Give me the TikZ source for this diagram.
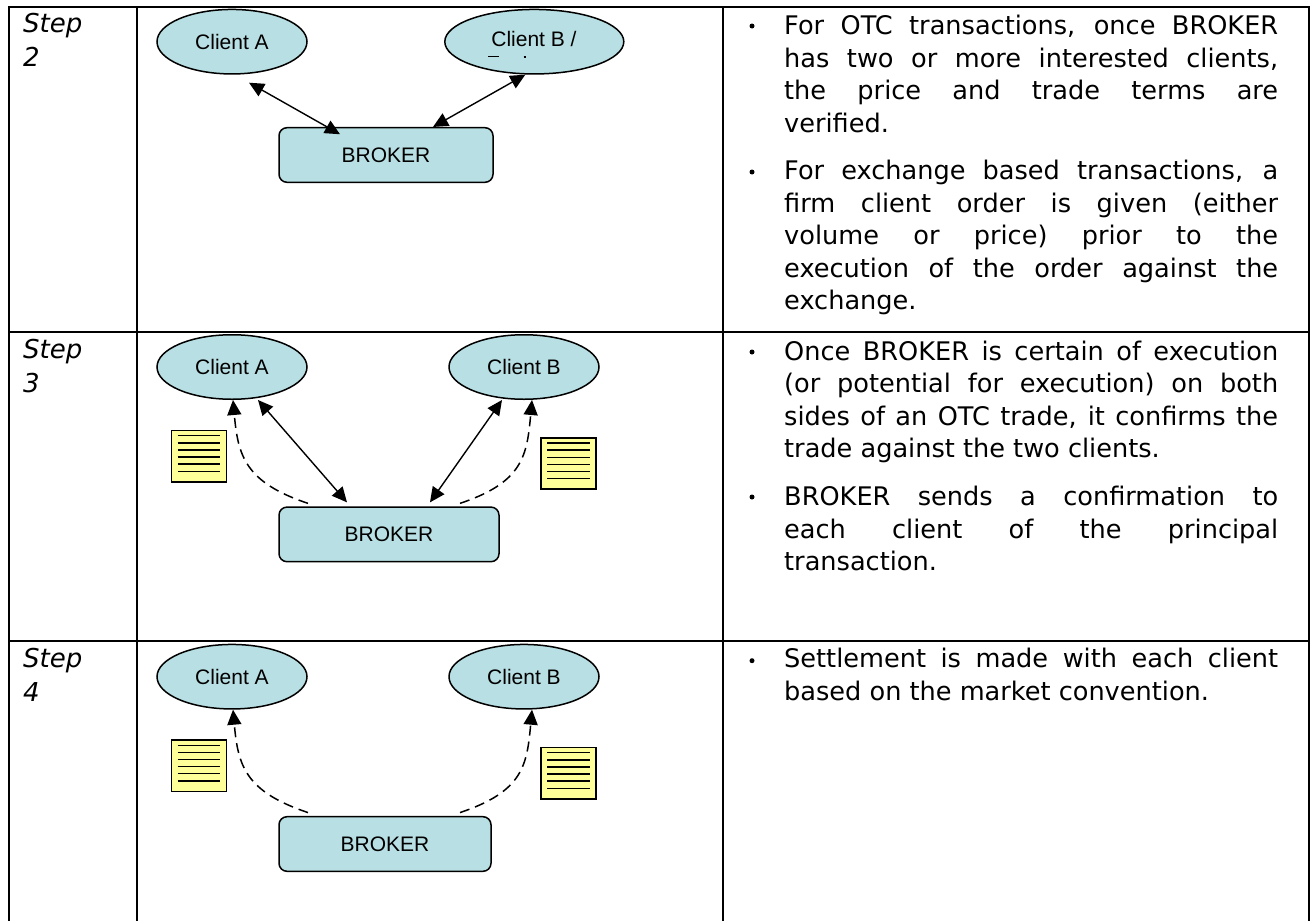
\documentclass[tikz,border=0pt]{standalone}
\usepackage{fontspec}
\setmainfont{DejaVu Sans}
\newfontfamily\arialfont{Liberation Sans}
\usetikzlibrary{shapes.geometric, positioning, arrows.meta}
\definecolor{boxblue}{HTML}{B8DFE3}
\definecolor{noteyellow}{HTML}{FFFF99}
\tikzset{
  client/.style={ellipse, draw, line width=1.5pt, fill=boxblue, minimum width=150pt, minimum height=64.5pt, inner sep=0pt, font=\arialfont\fontsize{21}{24}\selectfont},
  broker/.style={rectangle, draw, line width=1.5pt, rounded corners=8pt, fill=boxblue, minimum height=54.6pt, inner sep=0pt, font=\arialfont\fontsize{21}{24}\selectfont},
  bothways/.style={{Triangle[length=15pt,width=14pt]}-{Triangle[length=15pt,width=14pt]}, line width=1.4pt},
  confirm/.style={-{Triangle[length=15pt,width=14pt]}, line width=1.5pt, dash pattern=on 10pt off 6pt},
  note/.style={rectangle, draw, line width=1.6pt, fill=noteyellow, minimum width=55pt, minimum height=51.5pt, inner sep=0pt},
  tableline/.style={line width=1.8pt},
  steptxt/.style={anchor=north west, align=left, font=\itshape\fontsize{26}{34}\selectfont, inner sep=0pt},
  bullettxt/.style={anchor=north west, inner sep=0pt, text width=494pt, align=justify, font=\fontsize{25.6}{32.5}\selectfont},
  dotmark/.style={circle, fill, inner sep=0pt, minimum size=5pt},
}
% the six lines on a note
\newcommand\notelines[1]{
  \foreach \k in {1,...,6}
    \draw [line width=1.4pt] ([xshift=7pt, yshift={1pt-\k*7.1pt}]#1.north west) -- ([xshift=-7pt, yshift={1pt-\k*7.1pt}]#1.north east);
}
\begin{document}
\begin{tikzpicture}[x=1pt, y=-1pt]
  \useasboundingbox (0,0) rectangle (1312,921);
  % table
  \draw [tableline] (8.7,6.7) -- (1309,6.7);
  \draw [tableline] (8.7,331.7) -- (1309,331.7);
  \draw [tableline] (8.7,640.7) -- (1309,640.7);
  \draw [tableline] (8.7,6) -- (8.7,921);
  \draw [tableline] (137,6) -- (137,921);
  \draw [tableline] (723,6) -- (723,921);
  \draw [tableline] (1309,6) -- (1309,921);
  \node [steptxt] (st2) at (23,13) {Step\\2};
  \node [steptxt] (st3) at (23,339) {Step\\3};
  \node [steptxt] (st4) at (23,648) {Step\\4};

  % step 2
  \node [client] (a2) at (232,41.7) {Client A};
  \node [client, minimum width=179pt] (b2) at (534.3,41.7) {};
  \node [font=\arialfont\fontsize{21}{24}\selectfont] (b2txt) at (534,39) {Client B /};
  \coordinate (t2a) at (488,56.7);
  \coordinate (t2b) at (499,56.7);
  \draw [line width=1.2pt] (t2a) -- (t2b);
  \coordinate (t2c) at (523.5,57);
  \coordinate (t2d) at (525.5,57);
  \draw [line width=1.2pt] (t2c) -- (t2d);
  \node [broker, minimum width=214pt] (k2) at (386,155) {BROKER};
  \draw [bothways] ([xshift=17pt,yshift=-8pt]a2.south) -- ([xshift=-46pt,yshift=-7.3pt]k2.north);
  \draw [bothways] ([xshift=-9pt]b2.south) -- ([xshift=47pt]k2.north);

  % step 3
  \node [client] (a3) at (232,367) {Client A};
  \node [client] (b3) at (524,367) {Client B};
  \node [broker, minimum width=220pt] (k3) at (389,534.4) {BROKER};
  \draw [bothways] ([xshift=26pt]a3.south) -- ([xshift=-42pt,yshift=4pt]k3.north);
  \draw [bothways] ([xshift=-22pt]b3.south) -- ([xshift=41pt,yshift=4pt]k3.north);
  \draw [confirm] ([xshift=-81pt,yshift=3pt]k3.north) .. controls +(-63,-21) and +(5,55.7) .. ([xshift=1pt]a3.south);
  \draw [confirm] ([xshift=71pt,yshift=3pt]k3.north) .. controls +(63,-21) and +(-5,55.7) .. ([xshift=8pt]b3.south);
  \node [note] (n3a) at (199,456.2) {};
  \node [note] (n3b) at (568.3,463.5) {};
  \notelines{n3a}
  \notelines{n3b}

  % step 4
  \node [client] (a4) at (232,676.7) {Client A};
  \node [client] (b4) at (524,676.7) {Client B};
  \node [broker, minimum width=212pt] (k4) at (385,844) {BROKER};
  \draw [confirm] ([xshift=-77pt,yshift=3.4pt]k4.north) .. controls +(-63,-21) and +(5,55.7) .. ([xshift=1pt]a4.south);
  \draw [confirm] ([xshift=75pt,yshift=3.4pt]k4.north) .. controls +(63,-21) and +(-5,55.7) .. ([xshift=8pt]b4.south);
  \node [note] (n4a) at (199,765.8) {};
  \node [note] (n4b) at (568.3,773.2) {};
  \notelines{n4a}
  \notelines{n4b}

  % right column
  \node [dotmark] (d1) at (752,26) {};
  \node [bullettxt] (t1) at (784,15.3) {For OTC transactions, once BROKER\linebreak has two or more interested clients,\linebreak the price and trade terms are\linebreak verified.};
  \node [dotmark] (d2) at (752,172) {};
  \node [bullettxt] (t2) at (784,160.3) {For exchange based transactions, a\linebreak firm client order is given (either\linebreak volume or price) prior to the\linebreak execution of the order against the\linebreak exchange.};
  \node [dotmark] (d3) at (752,352) {};
  \node [bullettxt] (t3) at (784,340.8) {Once BROKER is certain of execution\linebreak (or potential for execution) on both\linebreak sides of an OTC trade, it confirms the\linebreak trade against the two clients.};
  \node [dotmark] (d4) at (752,497) {};
  \node [bullettxt] (t4) at (784,486) {BROKER sends a confirmation to\linebreak each client of the principal\linebreak transaction.};
  \node [dotmark] (d5) at (752,660.7) {};
  \node [bullettxt] (t5) at (784,648.3) {Settlement is made with each client\linebreak based on the market convention.};
\end{tikzpicture}
\end{document}
